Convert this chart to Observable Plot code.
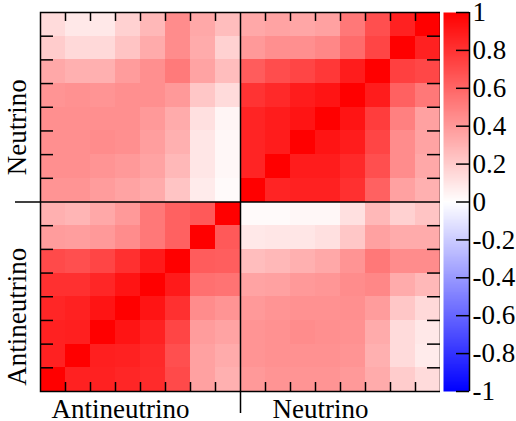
<!DOCTYPE html>
<html>
<head>
<meta charset="utf-8">
<script src="https://cdn.jsdelivr.net/npm/d3@7"></script>
<script src="https://cdn.jsdelivr.net/npm/@observablehq/plot@0.6"></script>
<style>
  html, body { margin: 0; padding: 0; background: #fff; }
  #wrap { display: flex; flex-direction: row; align-items: flex-start; width: 516px; height: 421px; }
  #wrap svg { display: block; }
</style>
</head>
<body>
<div id="wrap"></div>
<script>
// Bin groups (8 antineutrino bins, then 8 neutrino bins)
const groups = ["Antineutrino", "Neutrino"];

// Correlations: rows = antineutrino bins 0..7 (bottom to top), cols = antineutrino bins 0..7
const antiAnti = [
  [1.00, 0.87, 0.87, 0.85, 0.83, 0.71, 0.37, 0.31],
  [0.87, 1.00, 0.88, 0.87, 0.84, 0.69, 0.37, 0.33],
  [0.87, 0.88, 1.00, 0.92, 0.87, 0.73, 0.39, 0.36],
  [0.85, 0.87, 0.92, 1.00, 0.92, 0.81, 0.45, 0.42],
  [0.81, 0.81, 0.85, 0.92, 1.00, 0.90, 0.56, 0.55],
  [0.71, 0.69, 0.73, 0.81, 0.90, 1.00, 0.64, 0.63],
  [0.39, 0.38, 0.40, 0.45, 0.53, 0.62, 1.00, 0.65],
  [0.31, 0.29, 0.34, 0.40, 0.53, 0.62, 0.65, 1.00]
];
// rows = antineutrino bins 0..7, cols = neutrino bins 0..7
const antiNu = [
  [0.40, 0.42, 0.42, 0.42, 0.40, 0.33, 0.20, 0.14],
  [0.42, 0.43, 0.43, 0.43, 0.42, 0.31, 0.14, 0.08],
  [0.42, 0.43, 0.45, 0.44, 0.43, 0.33, 0.14, 0.09],
  [0.40, 0.42, 0.43, 0.43, 0.44, 0.39, 0.22, 0.15],
  [0.36, 0.37, 0.40, 0.41, 0.45, 0.47, 0.33, 0.28],
  [0.26, 0.28, 0.31, 0.34, 0.42, 0.53, 0.45, 0.45],
  [0.09, 0.10, 0.10, 0.12, 0.22, 0.37, 0.33, 0.33],
  [0.02, 0.02, 0.03, 0.03, 0.12, 0.28, 0.18, 0.23]
];
// rows = neutrino bins 0..7, cols = antineutrino bins 0..7
const nuAnti = [
  [0.42, 0.42, 0.39, 0.36, 0.33, 0.23, 0.08, 0.02],
  [0.44, 0.44, 0.42, 0.40, 0.36, 0.28, 0.10, 0.03],
  [0.44, 0.44, 0.45, 0.44, 0.38, 0.31, 0.10, 0.03],
  [0.44, 0.44, 0.44, 0.44, 0.40, 0.33, 0.12, 0.04],
  [0.42, 0.43, 0.42, 0.44, 0.44, 0.40, 0.22, 0.14],
  [0.34, 0.31, 0.31, 0.39, 0.44, 0.52, 0.36, 0.26],
  [0.20, 0.15, 0.15, 0.23, 0.33, 0.45, 0.33, 0.18],
  [0.14, 0.09, 0.09, 0.18, 0.28, 0.45, 0.34, 0.26]
];
// rows = neutrino bins 0..7, cols = neutrino bins 0..7
const nuNu = [
  [1.00, 0.86, 0.87, 0.87, 0.81, 0.62, 0.37, 0.31],
  [0.86, 1.00, 0.89, 0.89, 0.84, 0.69, 0.45, 0.34],
  [0.86, 0.89, 1.00, 0.92, 0.89, 0.73, 0.45, 0.36],
  [0.86, 0.89, 0.92, 1.00, 0.92, 0.76, 0.50, 0.37],
  [0.80, 0.84, 0.89, 0.92, 1.00, 0.89, 0.62, 0.53],
  [0.64, 0.70, 0.73, 0.78, 0.89, 1.00, 0.75, 0.72],
  [0.40, 0.44, 0.44, 0.47, 0.58, 0.73, 1.00, 0.87],
  [0.34, 0.36, 0.35, 0.37, 0.53, 0.69, 0.87, 1.00]
];

// Tick positions (bin boundaries, excluding the group divider)
const tickPos = [1, 2, 3, 4, 5, 6, 7, 9, 10, 11, 12, 13, 14, 15];
const dividerPos = [8];
// Colour bar tick labels
const cbTicks = [1, 0.8, 0.6, 0.4, 0.2, 0, -0.2, -0.4, -0.6, -0.8, -1];

// Assemble the 16x16 cell table
const nBins = 8;
const cells = [];
for (let r = 0; r < 2 * nBins; r++) {
  for (let c = 0; c < 2 * nBins; c++) {
    let v;
    if (r < nBins && c < nBins) v = antiAnti[r][c];
    else if (r < nBins) v = antiNu[r][c - nBins];
    else if (c < nBins) v = nuAnti[r - nBins][c];
    else v = nuNu[r - nBins][c - nBins];
    cells.push({r, c, v});
  }
}

const FONT = "'Liberation Serif', 'DejaVu Serif', 'Times New Roman', serif";
const FS = 27;
const colorScale = {type: "linear", domain: [-1, 0, 1], range: ["#0000ff", "#ffffff", "#ff0000"], interpolate: "rgb"};

const mT = 12, mB = 30, mL = 40;
const mainW = 440, H = 421;
const plotW = mainW - mL, plotH = H - mT - mB;

const main = Plot.plot({
  width: mainW, height: H,
  marginLeft: mL, marginRight: 0, marginTop: mT, marginBottom: mB,
  style: {fontFamily: FONT, fontSize: FS + "px", background: "white", overflow: "visible"},
  x: {domain: [0, 2 * nBins], axis: null},
  y: {domain: [0, 2 * nBins], axis: null},
  color: colorScale,
  marks: [
    Plot.rect(cells, {x1: "c", x2: d => d.c + 1, y1: "r", y2: d => d.r + 1, fill: "v", shapeRendering: "crispEdges"}),
    // inward ticks (rules span the frame, trimmed by pixel insets)
    Plot.ruleX(tickPos, {insetTop: plotH - 9, stroke: "black", strokeWidth: 1.5}),
    Plot.ruleX(tickPos, {insetBottom: plotH - 9, stroke: "black", strokeWidth: 1.5}),
    Plot.ruleY(tickPos, {insetRight: plotW - 13, stroke: "black", strokeWidth: 1.5}),
    Plot.ruleY(tickPos, {insetLeft: plotW - 13, stroke: "black", strokeWidth: 1.5}),
    // group dividers
    Plot.ruleX(dividerPos, {insetBottom: -22, stroke: "black", strokeWidth: 1.5}),
    Plot.ruleY(dividerPos, {insetLeft: -25, stroke: "black", strokeWidth: 1.5}),
    Plot.frame({stroke: "black", strokeWidth: 1.5}),
    // group labels
    Plot.text(groups, {x: (d, i) => i * nBins + nBins / 2, y: 0, text: d => d, dx: -20, dy: 18,
      textAnchor: "middle", lineAnchor: "middle", fontSize: FS, fill: "black"}),
    Plot.text(groups, {x: 0, y: (d, i) => i * nBins + nBins / 2, text: d => d, dx: -23, dy: 20, rotate: -90,
      textAnchor: "middle", lineAnchor: "middle", fontSize: FS, fill: "black"})
  ]
});

const cbL = 3, cbW = 26;
const cb = Plot.plot({
  width: 516 - mainW, height: H,
  marginLeft: cbL, marginRight: 516 - mainW - cbL - cbW, marginTop: mT, marginBottom: mB,
  style: {fontFamily: FONT, fontSize: FS + "px", background: "white", overflow: "visible"},
  x: {domain: [0, 1], axis: null},
  y: {domain: [-1, 1], axis: null},
  color: colorScale,
  marks: [
    Plot.raster({x1: 0, x2: 1, y1: -1, y2: 1, width: 1, height: 400, fill: (x, y) => y}),
    Plot.ruleX([1], {stroke: "black", strokeWidth: 1.5}),
    Plot.ruleY(cbTicks, {insetLeft: cbW - 13, stroke: "black", strokeWidth: 1.5}),
    Plot.text(cbTicks, {x: 1, y: d => d, text: d => String(d), dx: 3, textAnchor: "start",
      lineAnchor: "middle", fontSize: FS, fill: "black"})
  ]
});

document.getElementById("wrap").append(main, cb);
</script>
</body>
</html>
